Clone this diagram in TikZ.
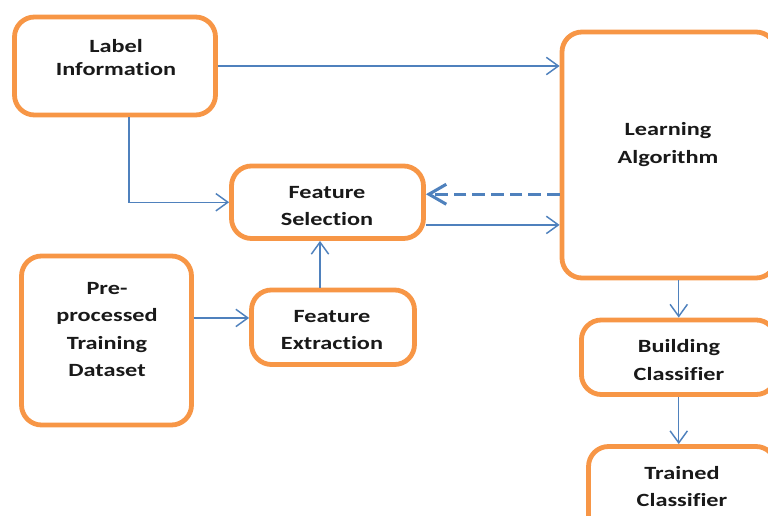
\documentclass[tikz,border=0pt]{standalone}
\usepackage{fontspec}
\newfontfamily\boxfont{Carlito}[FakeStretch=1.3, Ligatures={NoCommon}]
\usetikzlibrary{arrows.meta}
\definecolor{boxorange}{HTML}{F79646}
\definecolor{flowblue}{HTML}{4F81BD}
\tikzset{
  stagebox/.style={draw=boxorange, line width=3.6pt, fill=white, rounded corners=15pt,
    inner sep=0pt, minimum width=#1},
  lbl/.style={font=\boxfont\bfseries\fontsize{14}{20.6}\selectfont, align=center,
    inner sep=0pt, text=black!90},
  flow/.style={draw=flowblue, line width=1.1pt,
    -{Straight Barb[length=9pt, width=13pt, line width=1.1pt]}},
  feedback/.style={draw=flowblue, line width=2.3pt, dash pattern=on 9.5pt off 4.5pt,
    -{Straight Barb[length=13pt, width=15pt, line width=2.3pt]}},
}
\begin{document}
\begin{tikzpicture}[x=0.75pt, y=-0.75pt]
  \useasboundingbox (0,0) rectangle (768,516);
  \clip (0,0) rectangle (768,516);

  % stages of the training pipeline
  \node[stagebox=150.75pt, minimum height=73.5pt]   (label)   at (115,66)      {};
  \node[stagebox=144pt,    minimum height=54.4pt]   (select)  at (327.5,202.25) {};
  \node[stagebox=127.5pt,  minimum height=126.75pt] (prep)    at (106.5,340.5) {};
  \node[stagebox=122.25pt, minimum height=55.9pt]   (extract) at (333,327.25)  {};
  \node[stagebox=160.5pt,  minimum height=184.5pt]  (learn)   at (669,155)     {};
  \node[stagebox=146pt,    minimum height=55.9pt]   (build)   at (678.75,357.25) {};
  \node[stagebox=140.6pt,  minimum height=67.5pt]   (trained) at (682.25,491.5) {};

  % captions
  \node[lbl, font=\boxfont\bfseries\fontsize{14}{17.3}\selectfont]
             (labelT)   at (116,57.5)  {Label\\Information};
  \node[lbl] (selectT)  at (327,206)   {Feature\\Selection};
  \node[lbl] (prepT)    at (107,329.5) {Pre-\\processed\\Training\\Dataset};
  \node[lbl] (extractT) at (332,330)   {Feature\\Extraction};
  \node[lbl] (learnT)   at (668,144.5) {Learning\\Algorithm};
  \node[lbl] (buildT)   at (679,360)   {Building\\Classifier};
  \node[lbl] (trainedT) at (682,486.5) {Trained\\Classifier};

  % connectors
  \draw[flow] (label.east) -- (label.east -| learn.west);
  \draw[flow] ([xshift=10.5pt]label.south) |- (select.west);
  \draw[flow] ([yshift=16.9pt]prep.east) -- ([yshift=16.9pt]prep.east -| extract.west);
  \draw[flow] ([xshift=-9.75pt]extract.north) -- ([xshift=-9.75pt]extract.north |- select.south);
  \draw[feedback] ([yshift=6pt]select.east -| learn.west) -- ([yshift=6pt]select.east);
  \draw[flow] ([yshift=-17pt]select.east) -- ([yshift=-17pt]select.east -| learn.west);
  \draw[flow] (learn.south -| build.north) -- (build.north);
  \draw[flow] (build.south) -- (build.south |- trained.north);
\end{tikzpicture}
\end{document}
